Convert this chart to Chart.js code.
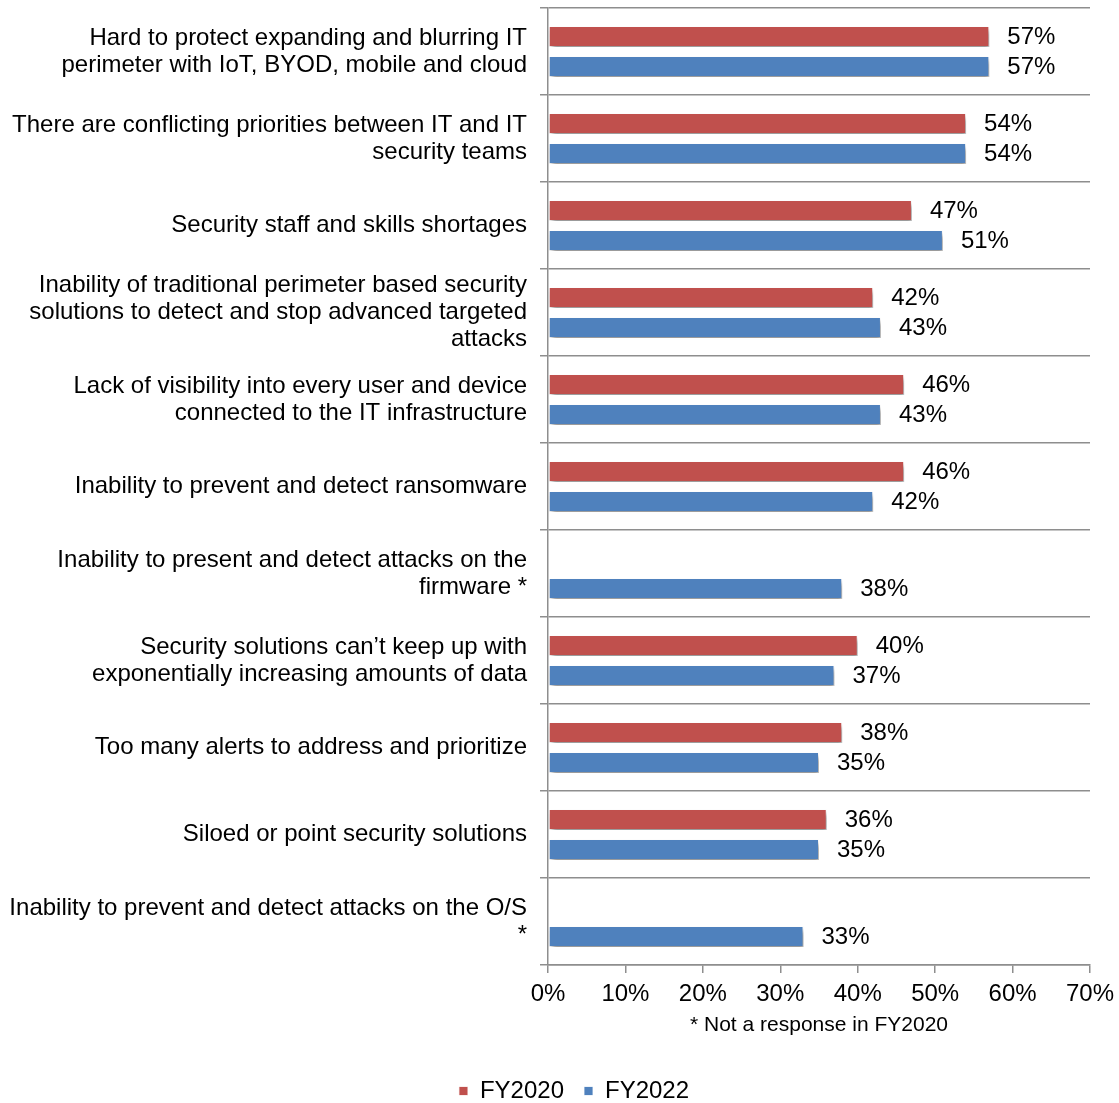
<!DOCTYPE html>
<html>
<head>
<meta charset="utf-8">
<script src="https://cdn.jsdelivr.net/npm/chart.js@4"></script>
<style>
  html, body { margin: 0; padding: 0; background: #fff; }
  #wrap { width: 1119px; height: 1103px; }
</style>
</head>
<body>
<div id="wrap"><canvas id="myChart" width="1119" height="1103"></canvas></div>
<script>
const categories = [
  ["Hard to protect expanding and blurring IT", "perimeter with IoT, BYOD, mobile and cloud"],
  ["There are conflicting priorities between IT and IT", "security teams"],
  "Security staff and skills shortages",
  ["Inability of traditional perimeter based security", "solutions to detect and stop advanced targeted", "attacks"],
  ["Lack of visibility into every user and device", "connected to the IT infrastructure"],
  "Inability to prevent and detect ransomware",
  ["Inability to present and detect attacks on the", "firmware *"],
  ["Security solutions can\u2019t keep up with", "exponentially increasing amounts of data"],
  "Too many alerts to address and prioritize",
  "Siloed or point security solutions",
  ["Inability to prevent and detect attacks on the O/S", "*"]
];
const fy2020 = [57, 54, 47, 42, 46, 46, null, 40, 38, 36, null];
const fy2022 = [57, 54, 51, 43, 43, 42, 38, 37, 35, 35, 33];
const seriesNames = ["FY2020", "FY2022"];
const seriesColors = ["#c0504d", "#4f81bd"];
const xTicks = [0, 10, 20, 30, 40, 50, 60, 70];
const xNote = "* Not a response in FY2020";

const font = "'Liberation Sans', Arial, sans-serif";
const gridGray = "#8e8e8e";

const shadow = {
  id: "shadow",
  beforeDatasetsDraw(chart) {
    const c = chart.ctx;
    c.save();
    c.shadowColor = "rgba(0,0,0,0.45)";
    c.shadowBlur = 5;
    c.shadowOffsetX = 2;
    c.shadowOffsetY = 4;
  },
  afterDatasetsDraw(chart) {
    chart.ctx.restore();
  }
};

const valueLabels = {
  id: "valueLabels",
  afterDatasetsDraw(chart) {
    const c = chart.ctx;
    c.save();
    c.font = "24px " + font;
    c.fillStyle = "#000";
    c.textAlign = "left";
    c.textBaseline = "middle";
    chart.data.datasets.forEach((ds, i) => {
      chart.getDatasetMeta(i).data.forEach((bar, j) => {
        const v = ds.data[j];
        if (v == null) return;
        c.fillText(v + "%", bar.x + 18, bar.y + 1);
      });
    });
    c.restore();
  }
};

// legend sits a bit right of the canvas centre in the original
const legendShift = {
  id: "legendShift",
  afterLayout(chart) {
    if (!chart.legend) return;
    chart.legend.left += 29;
    chart.legend.right += 29;
  }
};

new Chart("myChart", {
  type: "bar",
  data: {
    labels: categories,
    datasets: [
      { label: seriesNames[0], data: fy2020, backgroundColor: seriesColors[0] },
      { label: seriesNames[1], data: fy2022, backgroundColor: seriesColors[1] }
    ].map(d => Object.assign(d, {
      borderColor: "rgba(255,255,255,0.8)",
      borderWidth: 1,
      borderSkipped: false,
      categoryPercentage: 0.69,
      barPercentage: 0.7
    }))
  },
  options: {
    indexAxis: "y",
    responsive: false,
    animation: false,
    layout: { padding: { top: 8, right: 29, left: 0, bottom: -10 } },
    plugins: {
      legend: {
        position: "bottom",
        labels: {
          font: { family: font, size: 24, lineHeight: 1 },
          color: "#000",
          boxWidth: 9,
          boxHeight: 9,
          padding: 20
        }
      },
      tooltip: { enabled: false }
    },
    scales: {
      x: {
        min: 0,
        max: 70,
        afterBuildTicks(s) { s.ticks = xTicks.map(v => ({ value: v })); },
        afterFit(s) {
          s.paddingRight = 0;
          s.paddingLeft = 0;
        },
        ticks: {
          callback: v => v + "%",
          font: { family: font, size: 24, lineHeight: 1 },
          color: "#000",
          padding: 9
        },
        grid: {
          drawOnChartArea: false,
          drawTicks: true,
          tickLength: 8,
          color: gridGray,
          lineWidth: 1.5
        },
        border: { color: gridGray, width: 1.5 },
        title: {
          display: true,
          text: xNote,
          font: { family: font, size: 21, lineHeight: 1 },
          color: "#000",
          padding: { top: 0, bottom: 23 }
        }
      },
      y: {
        afterFit(s) {
          s.width = 548;
          s.paddingTop = 0;
          s.paddingBottom = 0;
        },
        ticks: {
          font: { family: font, size: 24, lineHeight: 1.125 },
          color: "#000",
          padding: 13,
          autoSkip: false
        },
        grid: {
          offset: true,
          color: gridGray,
          lineWidth: 1.5,
          tickLength: 8
        },
        border: { color: gridGray, width: 1.5 }
      }
    }
  },
  plugins: [shadow, valueLabels, legendShift]
});
</script>
</body>
</html>
